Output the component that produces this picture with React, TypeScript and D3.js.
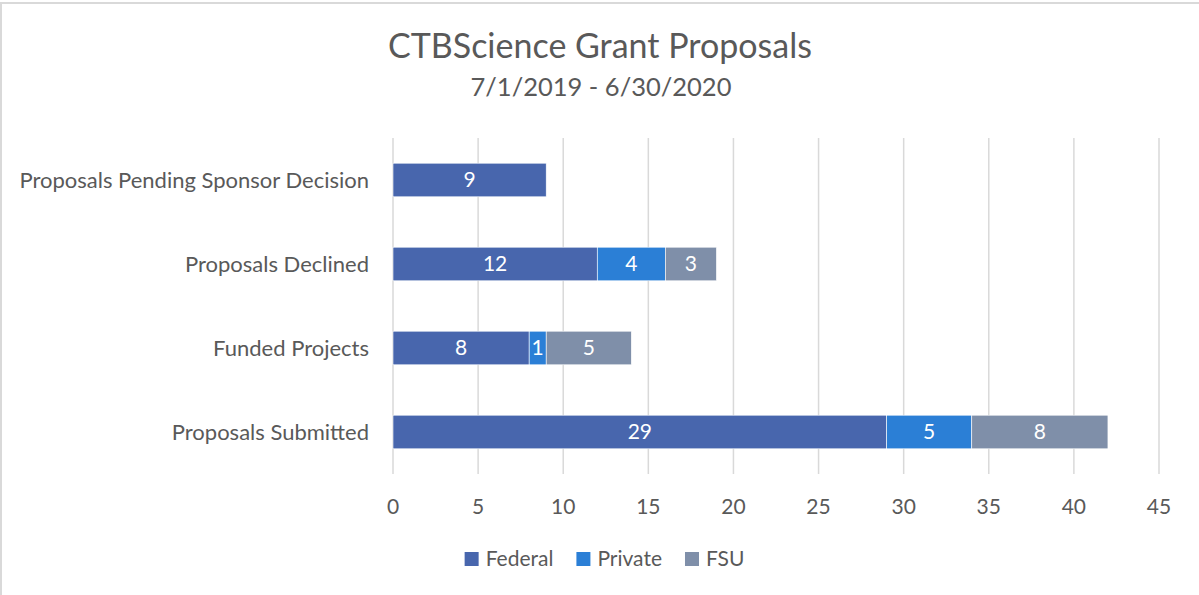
import { useEffect, useRef } from 'react';
import * as d3 from 'd3';

const categories = ['Proposals Pending Sponsor Decision', 'Proposals Declined', 'Funded Projects', 'Proposals Submitted'];
const seriesNames = ['Federal', 'Private', 'FSU'];
const federal = [9, 12, 8, 29];
const privateVals = [0, 4, 1, 5];
const fsu = [0, 3, 5, 8];
const xTicks = [0, 5, 10, 15, 20, 25, 30, 35, 40, 45];
const colors = ['#4866ad', '#2b7fd6', '#7f8fa9'];

const FONT = 'Lato, "Open Sans", sans-serif';

const App = () => {
  const svgRef = useRef<SVGSVGElement>(null);

  useEffect(() => {
    document.body.style.margin = '0';
    const W = 1199;
    const H = 595;
    const svg = d3.select(svgRef.current);
    svg.selectAll('*').remove();

    // chart border (only top and left visible in the crop)
    svg.append('rect')
      .attr('x', 1).attr('y', 3)
      .attr('width', W + 10).attr('height', H + 10)
      .attr('fill', '#fff')
      .attr('stroke', '#d9d9d9').attr('stroke-width', 2);

    const plot = { left: 393, right: 1159, top: 138, bottom: 474 };

    const x = d3.scaleLinear().domain([0, 45]).range([plot.left, plot.right]);
    const y = d3.scaleBand().domain(categories).range([plot.top, plot.bottom]).paddingInner(0.6).paddingOuter(0.3);

    // title
    svg.append('text')
      .attr('x', 600).attr('y', 58)
      .attr('text-anchor', 'middle')
      .attr('font-family', FONT).attr('font-size', 34)
      .attr('fill', '#595959')
      .text('CTBScience Grant Proposals');
    svg.append('text')
      .attr('x', 601).attr('y', 96)
      .attr('text-anchor', 'middle')
      .attr('font-family', FONT).attr('font-size', 25.5)
      .attr('fill', '#595959')
      .text('7/1/2019 - 6/30/2020');

    // gridlines
    svg.append('g')
      .selectAll('line')
      .data(xTicks)
      .join('line')
      .attr('x1', d => x(d)).attr('x2', d => x(d))
      .attr('y1', plot.top).attr('y2', plot.bottom)
      .attr('stroke', '#d9d9d9').attr('stroke-width', 1.5);

    // tick labels
    svg.append('g')
      .selectAll('text')
      .data(xTicks)
      .join('text')
      .attr('x', d => x(d)).attr('y', 514)
      .attr('text-anchor', 'middle')
      .attr('font-family', FONT).attr('font-size', 21)
      .attr('fill', '#595959')
      .text(d => d);

    // category labels
    svg.append('g')
      .selectAll('text')
      .data(categories)
      .join('text')
      .attr('x', 369)
      .attr('y', d => (y(d) as number) + y.bandwidth() / 2)
      .attr('dy', '0.35em')
      .attr('text-anchor', 'end')
      .attr('font-family', FONT).attr('font-size', 22)
      .attr('fill', '#595959')
      .text(d => d);

    // stacked bars
    const rows = categories.map((c, i) => ({ cat: c, Federal: federal[i], Private: privateVals[i], FSU: fsu[i] }));
    const stacked = d3.stack<any>().keys(seriesNames)(rows);

    stacked.forEach((layer, si) => {
      const g = svg.append('g');
      g.selectAll('rect')
        .data(layer.filter(d => d[1] - d[0] > 0))
        .join('rect')
        .attr('x', d => x(d[0]))
        .attr('y', d => y(d.data.cat) as number)
        .attr('width', d => x(d[1]) - x(d[0]))
        .attr('height', y.bandwidth())
        .attr('fill', colors[si])
        .attr('stroke', '#fff').attr('stroke-width', 0.6);
      g.selectAll('text')
        .data(layer.filter(d => d[1] - d[0] > 0))
        .join('text')
        .attr('x', d => (x(d[0]) + x(d[1])) / 2)
        .attr('y', d => (y(d.data.cat) as number) + y.bandwidth() / 2)
        .attr('dy', '0.35em')
        .attr('text-anchor', 'middle')
        .attr('font-family', FONT).attr('font-size', 21)
        .attr('fill', '#fff')
        .text(d => d[1] - d[0]);
    });

    // legend
    const legend = svg.append('g');
    let lx = 0;
    seriesNames.forEach((name, i) => {
      const item = legend.append('g').attr('transform', `translate(${lx},0)`);
      item.append('rect')
        .attr('x', 0).attr('y', 552)
        .attr('width', 14).attr('height', 14)
        .attr('fill', colors[i]);
      const t = item.append('text')
        .attr('x', 21).attr('y', 559)
        .attr('dy', '0.35em')
        .attr('font-family', FONT).attr('font-size', 21)
        .attr('fill', '#595959')
        .text(name);
      const tw = (t.node() as SVGTextElement).getComputedTextLength();
      lx += 21 + tw + 23;
    });
    const totalW = lx - 23;
    legend.attr('transform', `translate(${604.5 - totalW / 2},0)`);
  }, []);

  return <svg ref={svgRef} width={1199} height={595} style={{ display: 'block' }} />;
};

export default App;
